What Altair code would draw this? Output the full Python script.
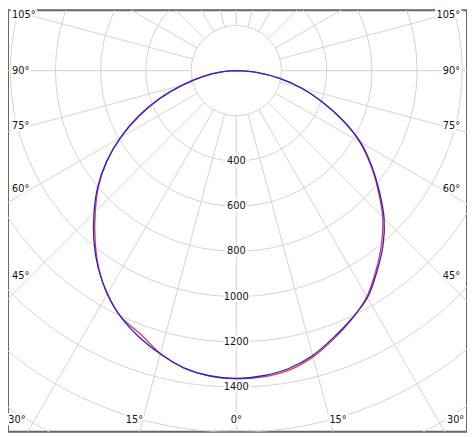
import math
import altair as alt
import pandas as pd

# ---------------- data ----------------
ANGLES = [0, 5, 10, 15, 20, 25, 30, 35, 40, 45, 50, 55, 60, 65, 70, 75, 80, 85, 90]
BLUE_LEFT = [1361, 1355, 1335, 1298, 1255, 1205, 1140, 1065, 980, 890, 800, 700, 590, 475, 360, 245, 150, 70, 0]
BLUE_RIGHT = [1361, 1355, 1338, 1305, 1257, 1210, 1160, 1085, 1010, 925, 825, 730, 635, 520, 405, 300, 195, 95, 0]
RED_LEFT = [1364, 1357, 1336, 1296, 1240, 1203, 1142, 1062, 972, 882, 795, 700, 592, 478, 362, 248, 152, 72, 0]
RED_RIGHT = [1364, 1360, 1345, 1311, 1263, 1212, 1155, 1078, 1000, 916, 818, 725, 630, 518, 405, 300, 195, 95, 0]

RING_VALUES = [200, 400, 600, 800, 1000, 1200, 1400, 1600, 1800, 2000]
RING_LABELS = [400, 600, 800, 1000, 1200, 1400]
SPOKE_ANGLES = list(range(0, 360, 15))
SIDE_LABEL_ANGLES = [105, 90, 75, 60, 45]
BOTTOM_LABEL_ANGLES = [-30, -15, 0, 15, 30]

# ---------------- layout ----------------
W, H = 464, 426
CX, CY = 230.75, 61.0
K = 45.7 / 200.0  # px per cd
XMIN, XMAX = -CX / K, (W - CX) / K
YMIN, YMAX = -(H - CY) / K, CY / K
SIDE_DX = 208.0 / K
BOTTOM_DY = 384.0 / K

GRID = "#d2d2d2"
RED = "#e0354a"
BLUE = "#2424d8"
FONT = "DejaVu Sans Condensed, DejaVu Sans"
FS = 11

xs = alt.Scale(domain=[XMIN, XMAX], nice=False, zero=False)
ys = alt.Scale(domain=[YMIN, YMAX], nice=False, zero=False)

# curves
rows = []
for name, left, right in [("C0-C180", RED_LEFT, RED_RIGHT), ("C90-C270", BLUE_LEFT, BLUE_RIGHT)]:
    for a, v in zip(ANGLES, left):
        rows.append({"series": name, "g": -a, "I": v})
    for a, v in zip(ANGLES, right):
        if a == 0:
            continue
        rows.append({"series": name, "g": a, "I": v})
curve_df = pd.DataFrame(rows)


def curve(name, color):
    return (
        alt.Chart(curve_df)
        .transform_filter(alt.datum.series == name)
        .transform_calculate(
            px="datum.I*sin(datum.g*PI/180)",
            py="-datum.I*cos(datum.g*PI/180)",
        )
        .mark_line(color=color, strokeWidth=1.3, clip=True, interpolate="catmull-rom")
        .encode(
            x=alt.X("px:Q", scale=xs, axis=None),
            y=alt.Y("py:Q", scale=ys, axis=None),
            order="g:Q",
        )
    )


rings = (
    alt.Chart(pd.DataFrame({"r": RING_VALUES}))
    .mark_arc(fillOpacity=0, stroke=GRID, strokeWidth=1, clip=True, theta=0, theta2=2 * math.pi)
    .encode(
        radius=alt.Radius(
            "r:Q", stack=False,
            scale=alt.Scale(type="linear", domain=[0, 2000], range=[0, 2000 * K]),
        ),
        x=alt.value(CX),
        y=alt.value(CY),
    )
)

spokes = (
    alt.Chart(pd.DataFrame({"a": SPOKE_ANGLES}))
    .transform_calculate(
        x1="200*sin(datum.a*PI/180)",
        y1="-200*cos(datum.a*PI/180)",
        x2="4000*sin(datum.a*PI/180)",
        y2="-4000*cos(datum.a*PI/180)",
    )
    .mark_rule(color=GRID, strokeWidth=1, clip=True)
    .encode(
        x=alt.X("x1:Q", scale=xs, axis=None),
        y=alt.Y("y1:Q", scale=ys, axis=None),
        x2="x2:Q",
        y2="y2:Q",
    )
)

# radial labels
radial_base = alt.Chart(pd.DataFrame({"v": RING_LABELS})).transform_calculate(
    lx="0", ly="-datum.v", t="toString(datum.v)"
)
radial_enc = dict(
    x=alt.X("lx:Q", scale=xs, axis=None),
    y=alt.Y("ly:Q", scale=ys, axis=None),
    text="t:N",
)

# side labels
side_df = pd.DataFrame({"a": SIDE_LABEL_ANGLES})
side_base = alt.Chart(side_df).transform_calculate(
    ly=f"-{SIDE_DX}*cos(datum.a*PI/180)/sin(datum.a*PI/180)",
    t="datum.a + '°'",
)

# bottom labels
bottom_base = alt.Chart(pd.DataFrame({"a": BOTTOM_LABEL_ANGLES})).transform_calculate(
    lx=f"{BOTTOM_DY}*tan(datum.a*PI/180)",
    t="abs(datum.a) + '°'",
)


def text_layers(base, enc, align):
    halo = base.mark_text(
        font=FONT, fontSize=FS, align=align, baseline="middle",
        color="white", stroke="white", strokeWidth=5, strokeJoin="round",
    ).encode(**enc)
    txt = base.mark_text(
        font=FONT, fontSize=FS, align=align, baseline="middle", color="#111",
    ).encode(**enc)
    return halo, txt


r_halo, r_txt = text_layers(radial_base, radial_enc, "center")
sl_halo, sl_txt = text_layers(
    side_base, dict(x=alt.value(4), y=alt.Y("ly:Q", scale=ys, axis=None), text="t:N"), "left"
)
sr_halo, sr_txt = text_layers(
    side_base, dict(x=alt.value(W - 7), y=alt.Y("ly:Q", scale=ys, axis=None), text="t:N"), "right"
)
b_halo, b_txt = text_layers(
    bottom_base, dict(x=alt.X("lx:Q", scale=xs, axis=None), y=alt.value(414), text="t:N"), "center"
)

chart = (
    alt.layer(
        rings, spokes,
        r_halo, sl_halo, sr_halo, b_halo,
        r_txt, sl_txt, sr_txt, b_txt,
        curve("C0-C180", RED), curve("C90-C270", BLUE),
    )
    .properties(width=W, height=H, padding=0, autosize=alt.AutoSizeParams(type="none"), background="white")
    .configure_view(stroke="#666666", strokeWidth=2)
)

chart.save("out.html", embed_options={"renderer": "svg", "actions": False})
